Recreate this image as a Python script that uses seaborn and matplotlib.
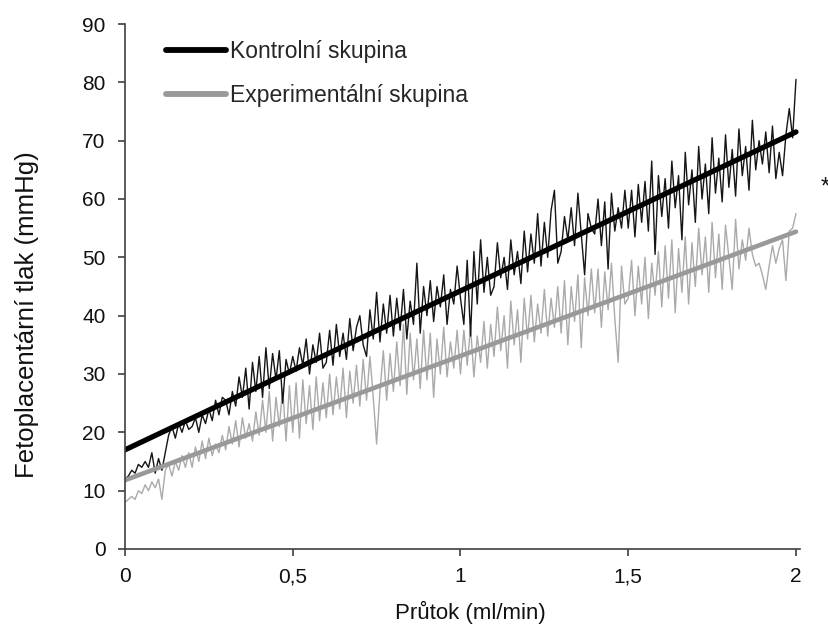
import numpy as np
import pandas as pd
import matplotlib
matplotlib.use("Agg")
import matplotlib.pyplot as plt
import seaborn as sns

# Flow rate grid (ml/min)
flow = np.round(np.linspace(0.0, 2.0, 201), 3)

# Fetoplacental pressure (mmHg), control group
control = [
    12.0, 12.5, 13.5, 13.0, 14.5, 14.0, 15.0, 14.0, 16.5, 13.0,
    15.5, 13.5, 16.5, 19.5, 21.0, 19.0, 21.5, 20.0, 22.0, 20.5,
    21.0, 22.5, 20.0, 23.0, 21.5, 24.0, 22.0, 25.5, 23.0, 26.0,
    25.5, 23.0, 27.0, 24.5, 29.5, 26.0, 31.0, 24.0, 32.0, 27.0,
    33.0, 26.0, 34.5, 27.5, 33.5, 29.0, 34.0, 25.0, 32.5, 30.0,
    33.0, 30.5, 34.5, 31.5, 36.0, 30.0, 35.0, 32.0, 37.0, 31.0,
    32.0, 37.5, 31.5, 38.5, 33.0, 37.0, 32.5, 39.5, 34.0, 38.0,
    40.0, 35.0, 33.0, 41.0, 36.0, 44.0, 35.5, 42.0, 37.0, 43.5,
    36.5, 43.0, 37.5, 44.5, 36.0, 42.5, 38.5, 49.0, 37.0, 45.0,
    40.0, 46.0, 39.0, 45.0, 41.5, 47.0, 38.5, 44.5, 42.0, 48.5,
    43.0, 38.5, 49.5, 36.5, 51.0, 42.0, 53.0, 44.0, 50.0, 43.5,
    45.0, 52.5, 46.5, 50.0, 44.5, 53.0, 47.0, 51.0, 45.5, 54.5,
    47.5, 54.0, 49.0, 57.5, 48.5, 56.0, 50.0, 58.0, 61.5, 49.0,
    51.0, 57.0, 53.0, 58.5, 52.0, 61.0, 54.0, 47.0, 57.5, 55.0,
    54.0, 60.0, 52.0, 59.5, 48.0, 61.0, 54.5, 58.5, 55.0, 61.5,
    55.0, 61.5, 53.5, 62.5, 56.0, 63.0, 54.5, 66.5, 50.5, 64.0,
    57.0, 63.5, 55.0, 66.5, 58.5, 64.0, 53.0, 68.0, 59.0, 65.0,
    56.0, 69.0, 60.0, 66.0, 57.5, 70.5, 61.0, 67.0, 59.5, 71.0,
    62.0, 68.5, 60.5, 72.0, 64.0, 69.0, 61.5, 73.5, 65.0, 70.0,
    66.0, 71.5, 64.5, 72.5, 63.5, 68.0, 64.0, 71.0, 75.5, 70.5,
    80.5,
]

# Fetoplacental pressure (mmHg), experimental group
experimental = [
    8.0, 8.5, 9.0, 8.5, 10.0, 9.5, 11.0, 10.0, 11.5, 10.5,
    12.0, 8.5, 13.5, 14.5, 12.5, 15.0, 13.5, 16.0, 14.0, 16.5,
    14.0, 17.5, 15.0, 18.5, 15.5, 19.0, 16.0, 18.0, 16.5, 19.5,
    17.0, 21.0, 18.0, 22.0, 17.5, 22.5, 19.0, 21.5, 18.5, 23.5,
    19.5, 25.5, 20.0, 27.0, 18.5, 26.0, 21.0, 27.5, 18.5, 28.0,
    20.0, 28.5, 19.0, 29.0, 21.5, 28.0, 20.5, 29.5, 22.0, 28.5,
    22.5, 30.0, 23.0, 29.5, 24.0, 31.0, 22.5, 30.5, 25.0, 31.5,
    24.5, 32.5, 25.5, 33.0, 26.0, 18.0, 27.0, 34.0, 25.5, 33.5,
    27.0, 35.5, 28.0, 38.5, 26.5, 37.0, 29.0, 36.0, 27.5, 37.5,
    29.0, 37.0, 26.0, 36.0, 30.0, 38.0, 29.5, 35.5, 31.0, 37.5,
    30.0, 37.5, 31.5, 38.0, 29.5, 36.5, 32.0, 39.0, 31.0, 38.5,
    33.0, 41.5, 34.0, 40.0, 31.0, 42.5, 35.0, 41.0, 32.0, 43.0,
    36.0, 43.5, 35.5, 42.0, 37.0, 44.5, 36.5, 43.0, 38.0, 45.0,
    37.0, 46.0, 35.0, 45.0, 39.0, 47.0, 34.5, 46.5, 40.0, 48.0,
    40.5, 48.0, 38.0, 47.5, 41.0, 49.0, 39.5, 32.0, 48.5, 42.0,
    43.0, 49.5, 40.0, 48.5, 42.0, 50.0, 39.5, 49.0, 43.5, 51.0,
    41.5, 52.0, 43.0, 53.0, 40.5, 51.5, 44.0, 53.5, 42.0, 52.5,
    45.0, 55.0, 47.0, 53.5, 44.0, 56.0, 46.5, 54.0, 44.5, 55.5,
    50.0, 44.5, 56.5, 48.0, 53.0, 49.5, 55.0, 50.5, 48.5, 49.0,
    47.0, 44.5, 48.5, 52.0, 49.0, 51.5, 53.0, 46.0, 54.5, 55.0,
    57.5,
]

# Linear trend lines (endpoints at 0 and 2 ml/min)
trend_flow = [0.0, 2.0]
control_trend = [17.0, 71.5]
experimental_trend = [11.8, 54.4]

group_labels = ["Kontrolní skupina", "Experimentální skupina"]
x_ticks = [0, 0.5, 1, 1.5, 2]
x_tick_labels = ["0", "0,5", "1", "1,5", "2"]
y_ticks = [0, 10, 20, 30, 40, 50, 60, 70, 80, 90]

sns.set_theme(style="white")
plt.rcParams["font.family"] = ["Liberation Sans", "DejaVu Sans"]

fig = plt.figure(figsize=(8.29, 6.28), dpi=100)
ax = fig.add_axes([125 / 829, 1 - 549 / 628, 675 / 829, 525 / 628])

raw = pd.DataFrame({"flow": flow, "control": control, "experimental": experimental})
trend = pd.DataFrame({"flow": trend_flow, "control": control_trend,
                      "experimental": experimental_trend})

sns.lineplot(data=raw, x="flow", y="experimental", ax=ax, color="#aaaaaa",
             linewidth=1.0, estimator=None, sort=False)
sns.lineplot(data=raw, x="flow", y="control", ax=ax, color="#151515",
             linewidth=1.0, estimator=None, sort=False)
sns.lineplot(data=trend, x="flow", y="control", ax=ax, color="#000000",
             linewidth=3.8, label=group_labels[0])
sns.lineplot(data=trend, x="flow", y="experimental", ax=ax, color="#999999",
             linewidth=3.3, label=group_labels[1])

ax.set_xlim(0, 2.012)
ax.set_ylim(0, 90)
ax.set_xticks(x_ticks)
ax.set_xticklabels(x_tick_labels)
ax.set_yticks(y_ticks)
ax.set_xlabel("")
ax.set_ylabel("")

for side in ["top", "right"]:
    ax.spines[side].set_visible(False)
for side in ["left", "bottom"]:
    ax.spines[side].set_color("#404040")
    ax.spines[side].set_linewidth(1.2)
ax.tick_params(axis="both", direction="out", length=5, width=1.2,
               color="#404040", labelsize=15, labelcolor="#111111",
               bottom=True, left=True)
ax.tick_params(axis="y", pad=9)
ax.tick_params(axis="x", pad=8)

fig.text(470 / 829, 1 - 612 / 628, "Průtok (ml/min)", ha="center", va="center",
         fontsize=16, color="#111111")
fig.text(27 / 829, 1 - 315 / 628, "Fetoplacentární tlak (mmHg)", ha="center",
         va="center", rotation=90, fontsize=18.5, color="#111111")
fig.text(825 / 829, 1 - 188 / 628, "*", ha="center", va="center",
         fontsize=17, color="#111111")

leg = ax.legend(loc="upper left", bbox_to_anchor=(166 / 829, 1 - 40 / 628),
                bbox_transform=fig.transFigure, frameon=False, fontsize=16.5,
                handlelength=2.6, handletextpad=0.2, labelspacing=0.9,
                borderaxespad=0, borderpad=0)
for line in leg.get_lines():
    line.set_linewidth(4.2)

fig.savefig("out.png", dpi=100)
